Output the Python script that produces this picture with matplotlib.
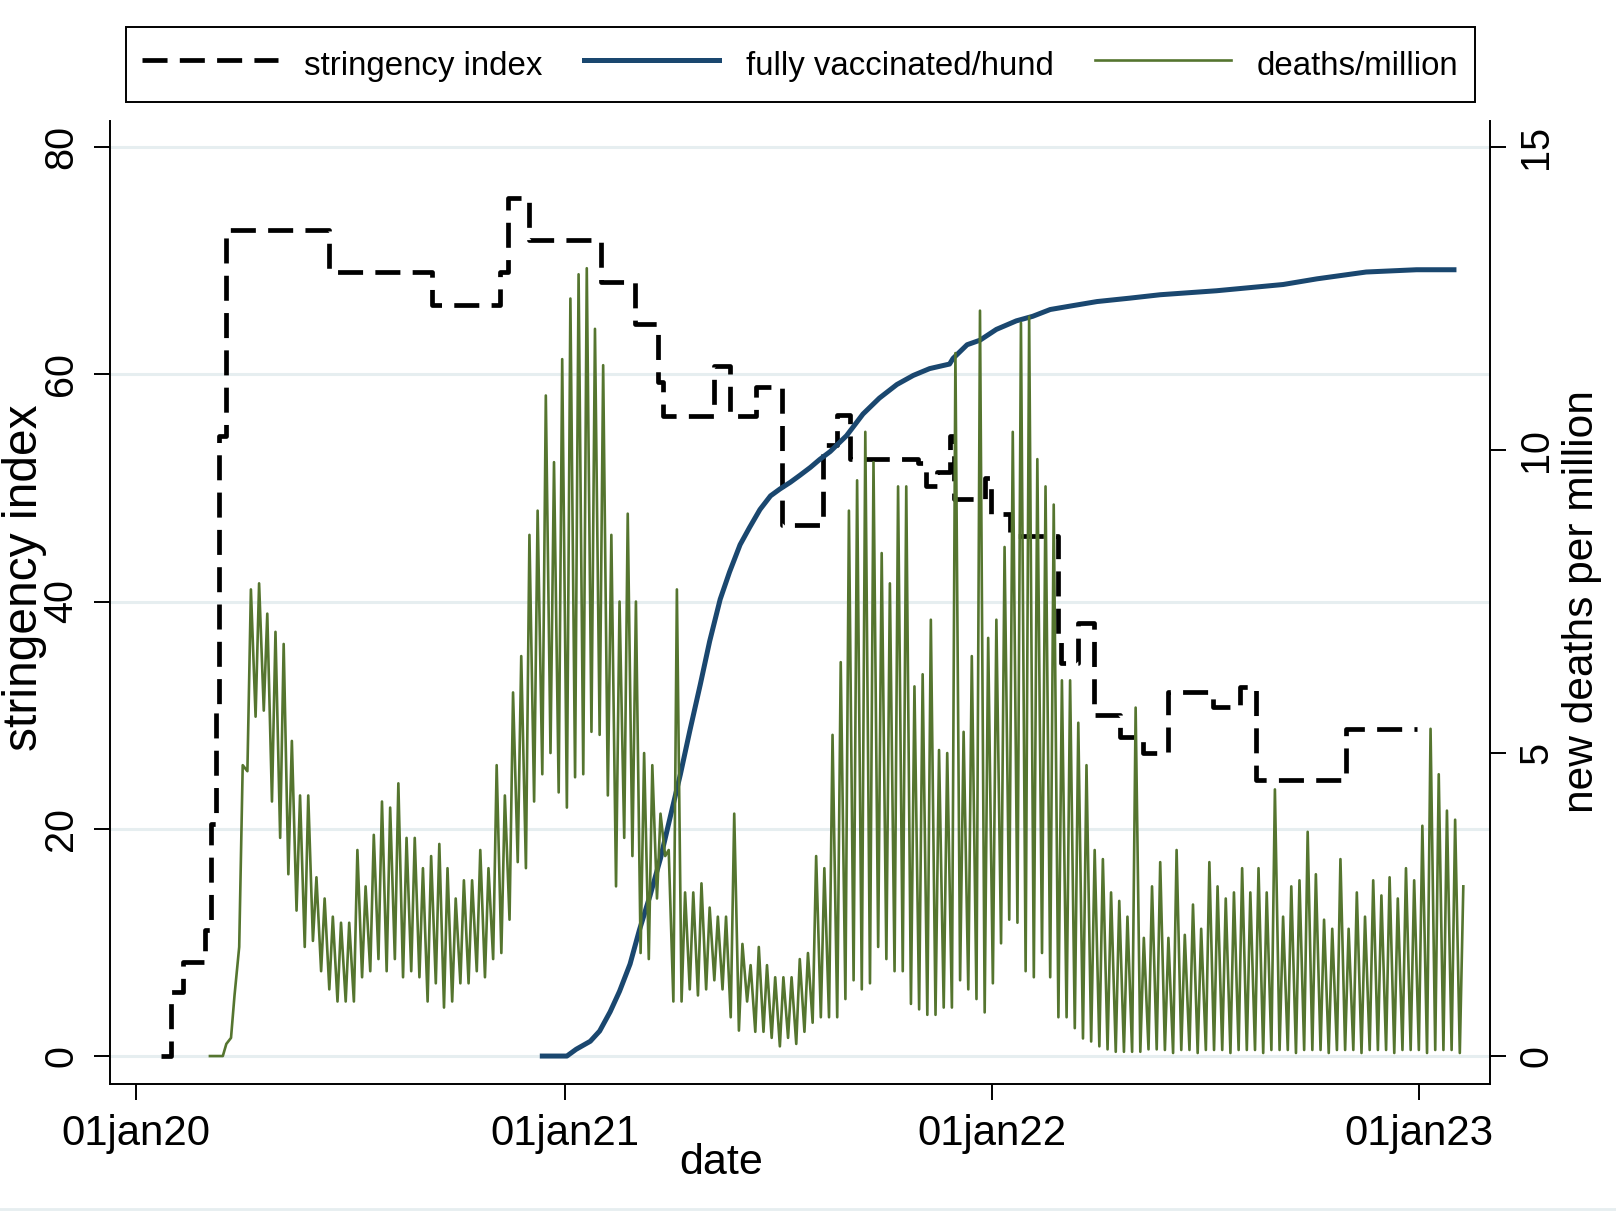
import numpy as np
import matplotlib
matplotlib.use("Agg")
import matplotlib.pyplot as plt
from matplotlib.lines import Line2D

plt.rcParams["font.family"] = ["Liberation Sans", "DejaVu Sans"]

# all x values are days since 01jan2020
DAY0 = np.datetime64("2020-01-01")

# stringency index: value holds from each change day on
str_day = [21, 30, 40, 59, 64, 68, 71, 77, 165, 253, 311, 318, 336, 397, 426,
           446, 450, 494, 507, 530, 552, 587, 599, 610, 668, 675, 684, 695, 699,
           725, 730, 747, 788, 790, 805, 818, 841, 860, 882, 920, 943, 957, 1034, 1094]
str_val = [0, 5.6, 8.3, 11.1, 20.4, 30.6, 54.6, 72.7, 69.0, 66.1, 69.0, 75.5, 71.8, 68.1, 64.4,
           59.3, 56.3, 60.7, 56.3, 58.9, 46.7, 53.8, 56.4, 52.5, 52.2, 50.2, 51.4, 54.6, 49.0,
           50.9, 47.7, 45.8, 36.5, 34.6, 38.1, 30.0, 28.1, 26.7, 32.0, 30.7, 32.5, 24.3, 28.8, 28.8]

# people fully vaccinated per hundred
vax_day = [347, 368, 376, 388, 396, 405, 413, 422, 430, 439, 448, 456, 465, 473, 482, 490,
           499, 507, 516, 524, 533, 542, 550, 559, 567, 576, 584, 593, 607, 621, 635, 650,
           664, 678, 695, 698, 710, 721, 735, 752, 766, 781, 798, 821, 849, 875, 923, 980,
           1009, 1051, 1094, 1126]
vax_val = [0, 0, 0.6, 1.3, 2.2, 3.9, 5.7, 8.1, 11.1, 14.1, 17.4, 20.9, 24.8, 28.6, 32.7, 36.5,
           40.2, 42.6, 45.0, 46.5, 48.1, 49.3, 49.9, 50.5, 51.1, 51.8, 52.5, 53.2, 54.6, 56.5, 57.9, 59.1,
           59.9, 60.5, 60.9, 61.4, 62.6, 63.0, 63.95, 64.7, 65.1, 65.7, 66.0, 66.4, 66.7, 67.0, 67.35, 67.9,
           68.4, 69.0, 69.2, 69.2]

# new deaths per million: weekly high day and low day (low comes 4 days after the high)
deaths_week0 = 63
deaths_peak = [0, 0, 0.2, 1.0, 4.8, 7.7, 7.8, 7.3, 7.0, 6.8,
               5.2, 4.3, 4.3, 2.95, 2.6, 2.3, 2.2, 2.2, 3.4, 2.8,
               3.65, 4.2, 4.1, 4.5, 3.6, 3.6, 3.1, 3.3, 3.5, 3.1,
               2.6, 2.9, 2.9, 3.4, 3.1, 4.8, 4.3, 6.0, 6.6, 8.6,
               9.0, 10.9, 9.8, 11.5, 12.5, 12.9, 13.0, 12.0, 11.4,
               8.6, 7.5, 8.95, 7.5, 5.0, 4.8, 4.0, 3.4, 7.7, 2.7,
               2.7, 2.85, 2.45, 2.3, 2.3, 4.0, 1.85, 1.5, 1.8, 1.5,
               1.3, 1.3, 1.3, 1.6, 1.7, 3.3, 3.1, 5.3,
               6.5, 9.0, 9.5, 10.3, 9.8, 8.3, 7.8, 9.4, 9.4, 6.1,
               6.3, 7.2, 5.05, 5.0, 11.6, 5.35, 6.6, 12.3, 6.9, 7.2,
               8.4, 10.3, 12.1, 12.2, 9.85, 9.4, 9.1, 6.2, 6.2, 5.5,
               4.8, 3.4, 3.25, 2.7, 2.56, 2.3, 5.75, 1.95, 2.8,
               3.2, 1.95, 3.4, 2.0, 2.5, 2.1, 3.2, 2.8, 2.6, 2.7,
               3.1, 2.7, 3.1, 2.7, 4.4, 2.3, 2.8, 2.9, 3.7, 3.0,
               2.25, 2.1, 3.25, 2.1, 2.7, 2.3, 2.9, 2.65, 2.95, 2.6,
               3.1, 2.9, 3.8, 5.4, 4.65, 4.05, 3.9, 2.8]
deaths_trough = [0, 0, 0.3, 1.8, 4.7, 5.6, 5.7, 4.2, 3.6, 3.0,
                 2.4, 1.8, 1.9, 1.4, 1.1, 0.9, 0.9, 0.9, 1.3, 1.4,
                 1.6, 1.4, 1.6, 1.3, 1.4, 1.3, 0.9, 1.2, 0.8, 0.9,
                 1.2, 1.2, 1.4, 1.3, 1.6, 1.7, 2.25, 3.2, 3.1, 4.2,
                 4.65, 5.0, 4.35, 4.1, 4.6, 4.65, 5.35, 5.3, 4.3,
                 2.8, 3.6, 3.3, 1.7, 1.6, 2.6, 3.3, 0.9, 0.9, 1.1,
                 1.0, 1.1, 1.25, 1.1, 0.64, 0.42, 0.9, 0.4, 0.4, 0.3,
                 0.16, 0.3, 0.2, 0.4, 0.55, 0.64, 0.64, 0.64,
                 0.94, 1.25, 1.1, 1.2, 1.8, 1.6, 1.4, 1.4, 0.86, 0.77,
                 0.68, 0.68, 0.8, 0.8, 1.25, 1.1, 0.94, 0.72, 1.2, 1.86,
                 2.25, 2.2, 1.4, 1.3, 1.7, 1.3, 0.64, 0.64, 0.46, 0.29,
                 0.24, 0.16, 0.11, 0.07, 0.07, 0.07, 0.07, 0.11, 0.11,
                 0.1, 0.05, 0.1, 0.1, 0.05, 0.1, 0.1, 0.1, 0.05, 0.1,
                 0.1, 0.1, 0.05, 0.1, 0.1, 0.1, 0.05, 0.1, 0.1, 0.1,
                 0.05, 0.1, 0.1, 0.1, 0.05, 0.1, 0.1, 0.1, 0.05, 0.1,
                 0.1, 0.1, 0.05, 0.1, 0.1, 0.1, 0.05, np.nan]

xtick_dates = ["2020-01-01", "2021-01-01", "2022-01-01", "2023-01-01"]
xtick_labels = ["01jan20", "01jan21", "01jan22", "01jan23"]
left_ticks = [0, 20, 40, 60, 80]
right_ticks = [0, 5, 10, 15]

NAVY = "#1a476f"
GREEN = "#55752f"
GRID = "#e6eef0"

W, H = 1616, 1213
fig = plt.figure(figsize=(W / 100, H / 100), dpi=100)
ax = fig.add_axes([110 / W, 1 - 1084 / H, 1380 / W, 963 / H])
ax2 = ax.twinx()

ylo, yhi = -2.46, 82.29
ax.set_ylim(ylo, yhi)
ax2.set_ylim(ylo * 15 / 80, yhi * 15 / 80)
ax.set_xlim(-22.4, 1156.8)

ax.set_yticks(left_ticks)
ax.grid(axis="y", color=GRID, lw=2.2)
ax.grid(axis="x", visible=False)
ax.set_axisbelow(True)

ax.plot(str_day, str_val, drawstyle="steps-post", color="black", lw=3.4,
        dashes=(5.3, 2.6), zorder=2)
ax.plot(vax_day, vax_val, color=NAVY, lw=3.6, zorder=3)

wk = deaths_week0 + 7 * np.arange(len(deaths_peak))
d_x = np.column_stack([wk, wk + 4]).ravel()
d_y = np.column_stack([deaths_peak, deaths_trough]).ravel()
keep = ~np.isnan(d_y)
ax2.plot(d_x[keep], d_y[keep], color=GREEN, lw=1.9)

# x axis: first of January each year
jan_days = [(np.datetime64(d) - DAY0).astype(int) for d in xtick_dates]
ax.set_xticks(jan_days, xtick_labels)
ax.tick_params(axis="x", direction="out", length=11.5, width=1.4, labelsize=30.2, pad=10)

ax.tick_params(axis="y", direction="out", length=11.5, width=1.4, labelsize=28.5,
               pad=10, labelrotation=90)
for lbl in ax.get_yticklabels():
    lbl.set_va("center")
ax2.set_yticks(right_ticks)
ax2.tick_params(axis="y", direction="out", length=11.5, width=1.4, labelsize=28.5,
                pad=8, labelrotation=90)
for lbl in ax2.get_yticklabels():
    lbl.set_va("center")

for s in ["top", "right"]:
    ax.spines[s].set_visible(False)
for s in ["top", "left", "bottom"]:
    ax2.spines[s].set_visible(False)
for s in ["left", "bottom"]:
    ax.spines[s].set_linewidth(1.4)
ax2.spines["right"].set_linewidth(1.4)

fig.text(25 / W, 1 - 578 / H, "stringency index", rotation=90,
         ha="center", va="center", fontsize=34.5)
fig.text(1582 / W, 1 - 602 / H, "new deaths per million", rotation=90,
         ha="center", va="center", fontsize=30.6)
fig.text(721 / W, 1 - 1163 / H, "date", ha="center", va="center", fontsize=31)

handles = [
    Line2D([], [], color="black", lw=3.4, dashes=(5.3, 2.6)),
    Line2D([], [], color=NAVY, lw=3.6),
    Line2D([], [], color=GREEN, lw=1.9),
]
labels = ["stringency index", "fully vaccinated/hund", "deaths/million"]
leg = fig.legend(handles, labels, loc="center",
                 bbox_to_anchor=((126 + 1475) / 2 / W, 1 - (26 + 103) / 2 / H),
                 ncol=3, fontsize=23.8, frameon=True, fancybox=False,
                 edgecolor="black", framealpha=1, handlelength=4.1,
                 handleheight=1.55, handletextpad=0.8, columnspacing=1.25,
                 borderpad=0.5)
leg.get_frame().set_linewidth(1.4)

fig.add_artist(Line2D([0, 1], [0.0035, 0.0035], transform=fig.transFigure,
                      color=GRID, lw=2))

fig.savefig("out.png", dpi=100)
